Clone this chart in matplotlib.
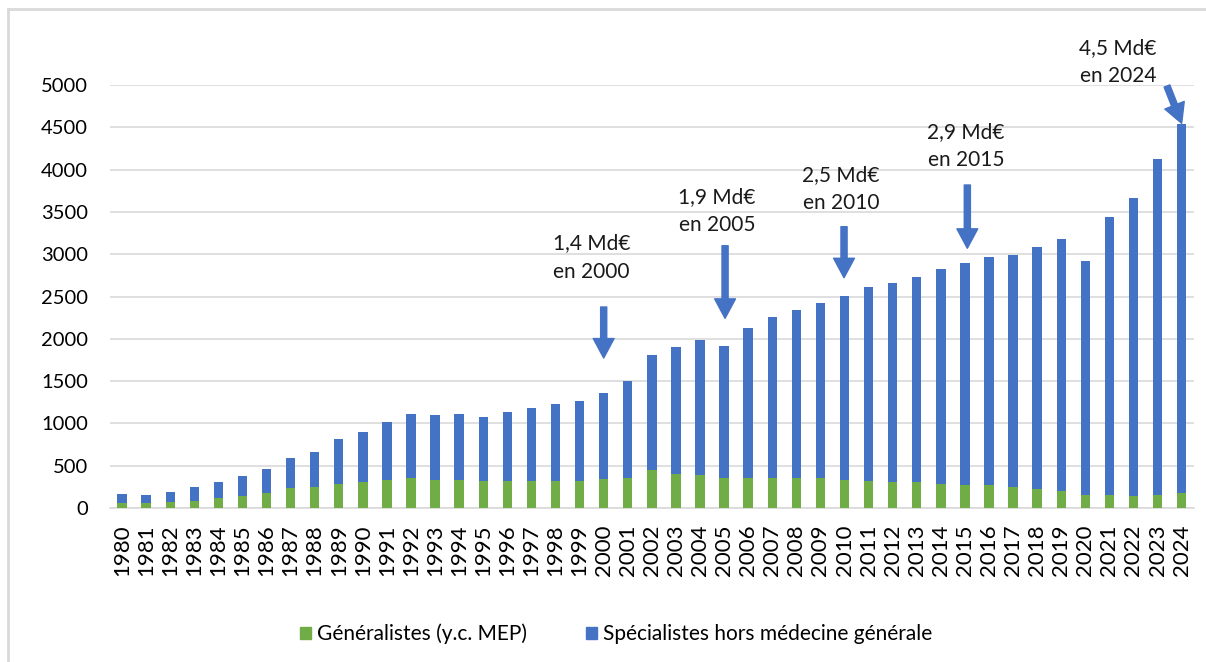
import matplotlib
matplotlib.use("Agg")
import matplotlib.pyplot as plt
from matplotlib.lines import Line2D
from matplotlib.patches import Patch

plt.rcParams['font.family'] = ['Lato', 'DejaVu Sans']

years = list(range(1980, 2025))
generalistes = [59, 57, 71, 83, 122, 146, 182, 233, 245, 284,
                308, 332, 359, 332, 332, 320, 320, 320, 320, 320,
                344, 359, 450, 406, 395, 359, 359, 359, 359, 359,
                335, 320, 308, 308, 284, 269, 269, 245, 221, 198,
                154, 154, 142, 154, 182]
totals = [162, 158, 193, 245, 308, 383, 458, 593, 660, 818,
          904, 1015, 1106, 1094, 1106, 1078, 1129, 1177, 1229, 1264,
          1363, 1501, 1808, 1907, 1982, 1919, 2128, 2254, 2340, 2427,
          2502, 2612, 2663, 2734, 2825, 2900, 2963, 2987, 3085, 3183,
          2923, 3443, 3668, 4125, 4535]
specialistes = [t - g for t, g in zip(totals, generalistes)]

ann_labels = ["1,4 Md€\nen 2000", "1,9 Md€\nen 2005", "2,5 Md€\nen 2010",
              "2,9 Md€\nen 2015", "4,5 Md€\nen 2024"]

GREEN = '#70AD47'
BLUE = '#4472C4'
GRID = '#D9D9D9'

fig = plt.figure(figsize=(12.06, 6.62), dpi=100)
ax = fig.add_axes([110/1206, 1-508/662, (1193.7-110)/1206, (508-85)/662])

x = list(range(len(years)))
ax.bar(x, generalistes, width=0.39, color=GREEN, label='Généralistes (y.c. MEP)', zorder=3)
ax.bar(x, specialistes, width=0.39, bottom=generalistes, color=BLUE,
       label='Spécialistes hors médecine générale', zorder=3)

ax.set_xlim(-0.5, 44.5)
ax.set_ylim(0, 5000)
ax.set_yticks(range(0, 5001, 500))
ax.yaxis.grid(True, color=GRID, lw=1.2, zorder=0)
ax.set_xticks(x)
ax.set_xticklabels([str(y) for y in years], rotation=90, fontsize=16)
ax.tick_params(axis='y', labelsize=14.5, length=0, pad=16)
ax.tick_params(axis='x', length=0, pad=12)
for s in ['top', 'right', 'left']:
    ax.spines[s].set_visible(False)
ax.spines['bottom'].set_color(GRID)
ax.spines['bottom'].set_linewidth(1.2)

# annotations: (text x, text y, arrow start, arrow tip)
ann_text_pos = [(19.5, 2960), (24.7, 3513), (29.85, 3773), (35.04, 4281), (41.36, 5268)]
ann_arrow_start = [(20.0, 2376), (25.04, 3100), (29.98, 3325), (35.1, 3818), (43.39, 4988)]
ann_arrow_tip = [(20.0, 1773), (25.04, 2242), (29.98, 2722), (35.1, 3070), (44.0, 4547)]

for lab, tp, st, tip in zip(ann_labels, ann_text_pos, ann_arrow_start, ann_arrow_tip):
    ax.text(tp[0], tp[1], lab, ha='center', va='center', fontsize=15,
            linespacing=1.5, color='#1a1a1a', clip_on=False, zorder=5)
    ax.annotate('', xy=tip, xytext=st,
                arrowprops=dict(arrowstyle='simple,head_length=0.7,head_width=0.75,tail_width=0.22',
                                color=BLUE, mutation_scale=20, shrinkA=0, shrinkB=0),
                annotation_clip=False, zorder=5)

handles = [Patch(color=GREEN), Patch(color=BLUE)]
fig.legend(handles, ['Généralistes (y.c. MEP)', 'Spécialistes hors médecine générale'],
           loc='center', bbox_to_anchor=(616/1206, 1-634/662), ncol=2, frameon=False,
           fontsize=15, handlelength=0.55, handleheight=0.55, handletextpad=0.3,
           columnspacing=2.8)

# outer frame (cropped)
fig.add_artist(Line2D([8/1206, 8/1206], [0, 1-9/662], color=GRID, lw=2))
fig.add_artist(Line2D([8/1206, 1], [1-9/662, 1-9/662], color=GRID, lw=2))

fig.savefig('out.png', dpi=100)
